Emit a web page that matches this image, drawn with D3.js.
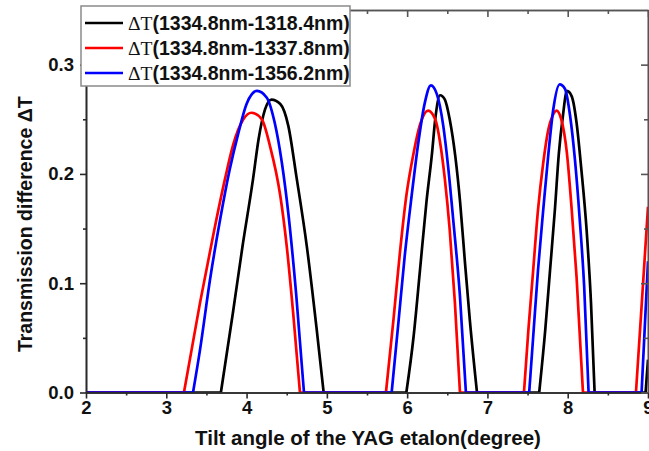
<!DOCTYPE html>
<html>
<head>
<meta charset="utf-8">
<script src="https://cdnjs.cloudflare.com/ajax/libs/d3/7.8.5/d3.min.js"></script>
<style>
  body { margin: 0; background: #fff; }
  text { font-family: "Liberation Sans", Arial, sans-serif; font-weight: bold; fill: #111; }
</style>
</head>
<body>
<div id="chart"></div>
<script>
// series names shown in the legend
var seriesNames = ["1334.8nm-1318.4nm", "1334.8nm-1337.8nm", "1334.8nm-1356.2nm"];
var seriesColors = ["#000000", "#ff0000", "#0000ff"];

// tilt angle (degree) / transmission difference
var blackX = [2.0, 3.68, 3.83, 3.95, 4.08, 4.15, 4.23, 4.31, 4.42, 4.52, 4.62, 4.75, 4.87, 4.96,
              5.99, 6.08, 6.16, 6.24, 6.31, 6.35, 6.41, 6.47, 6.53, 6.60, 6.66, 6.72, 6.78, 6.87,
              7.645, 7.72, 7.78, 7.84, 7.89, 7.94, 7.99, 8.05, 8.11, 8.17, 8.235, 8.29, 8.335,
              8.97, 9.0];
var blackY = [0, 0, 0.073, 0.134, 0.195, 0.232, 0.259, 0.268, 0.264, 0.244, 0.198, 0.134, 0.060, 0,
              0, 0.051, 0.112, 0.174, 0.219, 0.250, 0.272, 0.268, 0.250, 0.216, 0.174, 0.119, 0.067, 0,
              0, 0.057, 0.112, 0.167, 0.219, 0.253, 0.276, 0.271, 0.247, 0.204, 0.149, 0.082, 0,
              0, 0.03];

var redX = [2.0, 3.22, 3.42, 3.59, 3.73, 3.83, 3.96, 4.06, 4.19, 4.29, 4.42, 4.50, 4.58, 4.665,
            5.736, 5.83, 5.91, 5.99, 6.08, 6.16, 6.26, 6.35, 6.41, 6.47, 6.53, 6.595, 6.658,
            7.455, 7.51, 7.57, 7.63, 7.695, 7.76, 7.81, 7.86, 7.92, 7.99, 8.05, 8.11, 8.19,
            8.85, 8.93, 9.0];
var redY = [0, 0, 0.082, 0.146, 0.195, 0.226, 0.250, 0.256, 0.250, 0.226, 0.180, 0.134, 0.073, 0,
            0, 0.067, 0.128, 0.180, 0.219, 0.245, 0.258, 0.250, 0.229, 0.195, 0.149, 0.082, 0,
            0, 0.057, 0.112, 0.167, 0.210, 0.241, 0.253, 0.258, 0.250, 0.219, 0.167, 0.106, 0,
            0, 0.09, 0.17];

var blueX = [2.0, 3.333, 3.42, 3.544, 3.67, 3.79, 3.90, 4.00, 4.13, 4.25, 4.35, 4.44, 4.52, 4.62, 4.715,
             5.807, 5.89, 5.97, 6.056, 6.14, 6.22, 6.296, 6.37, 6.45, 6.51, 6.574, 6.658, 6.732,
             7.52, 7.57, 7.63, 7.695, 7.76, 7.82, 7.90, 7.965, 8.03, 8.09, 8.15, 8.205, 8.26,
             8.92, 8.96, 9.0];
var blueY = [0, 0, 0.039, 0.103, 0.158, 0.204, 0.238, 0.264, 0.276, 0.270, 0.247, 0.210, 0.164, 0.088, 0,
             0, 0.063, 0.125, 0.180, 0.229, 0.265, 0.281, 0.273, 0.244, 0.207, 0.158, 0.088, 0,
             0, 0.051, 0.112, 0.167, 0.219, 0.259, 0.282, 0.278, 0.253, 0.213, 0.158, 0.097, 0,
             0, 0.06, 0.12];

var xTicks = [2, 3, 4, 5, 6, 7, 8, 9];
var xMinor = [2.5, 3.5, 4.5, 5.5, 6.5, 7.5, 8.5];
var yTicks = [0.0, 0.1, 0.2, 0.3];
var yMinor = [0.05, 0.15, 0.25];


LineChart = function(_parentElement, _series){
    this.parentElement = _parentElement;
    this.series = _series;

    this.initVis();
}

LineChart.prototype.initVis = function() {
    var vis = this;

    vis.margin = {top: 10, right: 1, bottom: 58.5, left: 86};
    vis.width = 649 - vis.margin.left - vis.margin.right;
    vis.height = 451 - vis.margin.top - vis.margin.bottom;

    vis.svg = d3.select('#' + vis.parentElement)
        .append('svg')
        .attr('width', 649)
        .attr('height', 451)
        .append('g')
        .attr('transform', 'translate(' + vis.margin.left + ',' + vis.margin.top + ')');

    vis.x = d3.scaleLinear().domain([2, 9]).range([0, vis.width]);
    vis.y = d3.scaleLinear().domain([0, 0.35]).range([vis.height, 0]);

    vis.svg.append('clipPath').attr('id', 'plotclip')
        .append('rect')
        .attr('x', 0).attr('y', -2)
        .attr('width', vis.width).attr('height', vis.height + 2);

    // arches are smooth, the flat zero stretches straight
    vis.curved = d3.line().x(function(d){ return vis.x(d[0]); })
        .y(function(d){ return vis.y(d[1]); })
        .curve(d3.curveMonotoneX);
    vis.straight = d3.line().x(function(d){ return vis.x(d[0]); })
        .y(function(d){ return vis.y(d[1]); });

    vis.pathFor = function(xs, ys) {
        var pts = xs.map(function(v, i){ return [v, ys[i]]; });
        var d = '', piece = [pts[0]];
        for (var i = 1; i < pts.length; i++) {
            var flat = pts[i][1] === 0 && pts[i - 1][1] === 0;
            if (flat) {
                if (piece.length > 1) d += vis.curved(piece);
                d += vis.straight([pts[i - 1], pts[i]]);
                piece = [pts[i]];
            } else {
                piece.push(pts[i]);
            }
        }
        if (piece.length > 1) d += vis.curved(piece);
        return d;
    };

    vis.svg.append('g').attr('clip-path', 'url(#plotclip)')
        .selectAll('path')
        .data(vis.series)
        .enter()
        .append('path')
        .attr('d', function(s){ return vis.pathFor(s.x, s.y); })
        .attr('fill', 'none')
        .attr('stroke', function(s){ return s.color; })
        .attr('stroke-width', 2.7)
        .attr('stroke-linejoin', 'round');

    // axes
    var fmt = d3.format('.1f');
    vis.svg.append('g').attr('class', 'axis')
        .attr('transform', 'translate(0,' + vis.height + ')')
        .call(d3.axisBottom(vis.x).tickValues(xTicks).tickSize(6).tickSizeOuter(0).tickPadding(2).tickFormat(d3.format('d')));
    vis.svg.append('g').attr('class', 'axis minor')
        .attr('transform', 'translate(0,' + vis.height + ')')
        .call(d3.axisBottom(vis.x).tickValues(xMinor).tickSize(3).tickSizeOuter(0).tickFormat(''));
    vis.svg.append('g').attr('class', 'axis')
        .call(d3.axisLeft(vis.y).tickValues(yTicks).tickSize(6).tickSizeOuter(0).tickPadding(6).tickFormat(fmt));
    vis.svg.append('g').attr('class', 'axis minor')
        .call(d3.axisLeft(vis.y).tickValues(yMinor).tickSize(3).tickSizeOuter(0).tickFormat(''));
    vis.svg.append('g').attr('class', 'axis frame')
        .call(d3.axisTop(vis.x).tickValues(xTicks).tickSize(-7).tickSizeOuter(0).tickFormat(''));
    vis.svg.append('g').attr('class', 'axis frame')
        .call(d3.axisTop(vis.x).tickValues(xMinor).tickSize(-4).tickSizeOuter(0).tickFormat(''));
    vis.svg.append('g').attr('class', 'axis frame')
        .attr('transform', 'translate(' + vis.width + ',0)')
        .call(d3.axisRight(vis.y).tickValues(yTicks).tickSize(-7).tickSizeOuter(0).tickFormat(''));
    vis.svg.append('g').attr('class', 'axis frame')
        .attr('transform', 'translate(' + vis.width + ',0)')
        .call(d3.axisRight(vis.y).tickValues(yMinor).tickSize(-4).tickSizeOuter(0).tickFormat(''));

    vis.svg.selectAll('.axis path, .axis line')
        .attr('stroke', '#2a2a2a').attr('stroke-width', 1.6);
    vis.svg.selectAll('.frame path, .frame line').attr('stroke', '#555');
    vis.svg.selectAll('.axis text')
        .attr('font-size', 18.5).attr('font-family', '"Liberation Sans", Arial, sans-serif')
        .attr('font-weight', 'bold').attr('fill', '#111');

    // titles
    vis.svg.append('text')
        .attr('x', vis.width / 2 + 1).attr('y', 435)
        .attr('text-anchor', 'middle').attr('font-size', 20.5)
        .text('Tilt angle of the YAG etalon(degree)');
    vis.svg.append('text')
        .attr('transform', 'translate(' + (-54) + ',' + (vis.height / 2 + 23) + ') rotate(-90)')
        .attr('text-anchor', 'middle').attr('font-size', 19.5)
        .text('Transmission difference ΔT');

    // legend
    vis.legend = vis.svg.append('g').attr('transform', 'translate(-5,-4)');
    vis.legend.append('rect')
        .attr('width', 269).attr('height', 80)
        .attr('fill', '#fff').attr('stroke', '#8a8a8a').attr('stroke-width', 1.5);
    var rows = vis.legend.selectAll('g.row')
        .data(vis.series).enter()
        .append('g').attr('class', 'row')
        .attr('transform', function(d, i){ return 'translate(0,' + (17 + i * 25) + ')'; });
    rows.append('line')
        .attr('x1', 4).attr('x2', 42)
        .attr('stroke', function(d){ return d.color; })
        .attr('stroke-width', 2.6);
    var txt = rows.append('text')
        .attr('x', 47).attr('y', 6.5)
        .attr('font-size', 19.5);
    txt.append('tspan')
        .attr('font-family', '"Liberation Serif", "Times New Roman", serif')
        .attr('font-weight', 'normal')
        .text('ΔT');
    txt.append('tspan').text(function(d){ return '(' + d.name + ')'; });
};

var series = seriesNames.map(function(n, i){
    return {name: n, color: seriesColors[i], x: [blackX, redX, blueX][i], y: [blackY, redY, blueY][i]};
});

new LineChart('chart', series);
</script>
</body>
</html>
